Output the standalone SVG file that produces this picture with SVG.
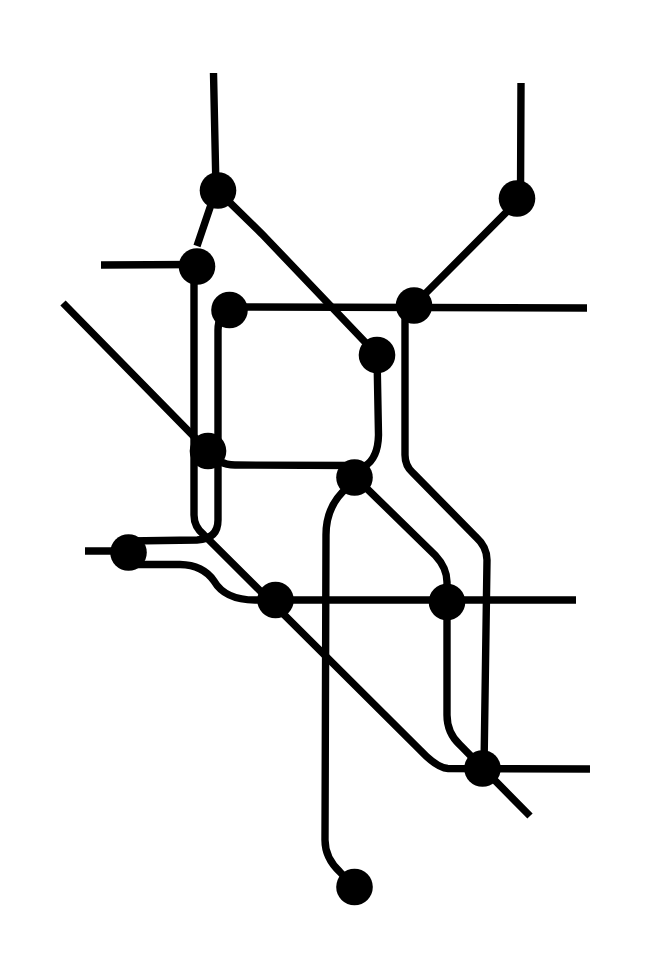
<svg xmlns="http://www.w3.org/2000/svg" width="656" height="976" viewBox="0 0 656 976">
<style>
.l{fill:none;stroke:#000;stroke-width:7.4}
.n{fill:#000}
</style>
<rect width="656" height="976" fill="#fff"/>
<g id="connectors">
<path class="l" d="M213.500 73L216 190L197 246"/>
<path class="l" d="M101 265L197 264.500"/>
<path class="l" d="M218 191L262 234L365 342L377 355L378.500 435Q378 458 365 466L355 477"/>
<path class="l" d="M521 83L520.500 198L414 305"/>
<path class="l" d="M230 307L587 308"/>
<path class="l" d="M229 310Q218 315 218 330L218 520Q218 539 197 540L128 541"/>
<path class="l" d="M194 266L194 515Q194 527 204 535L420 750Q437 768 448 768.500L590 769"/>
<path class="l" d="M63 303L207 450Q218 465 235 465L355 465.500"/>
<path class="l" d="M85 551L130 551"/>
<path class="l" d="M130 564.500L180 564.500Q203 565 214 581Q225 600 255 600L576 600"/>
<path class="l" d="M405 310L405 455Q405 466 413 473L476 537Q487 547 487 560L484 768"/>
<path class="l" d="M355 477L435 555Q447 568 447 582L447 715Q447 733 460 745L530 816"/>
<path class="l" d="M348 487Q326 505 326 535L325 840Q325 858 340 872L354 887"/>
</g>
<g id="n1"><circle class="n" cx="218" cy="190.500" r="18.300"/></g>
<g id="n2"><circle class="n" cx="517" cy="198.500" r="18.300"/></g>
<g id="n3"><circle class="n" cx="197" cy="266.500" r="18.300"/></g>
<g id="n4"><circle class="n" cx="229.500" cy="310" r="18.300"/></g>
<g id="n5"><circle class="n" cx="414" cy="305.500" r="18.300"/></g>
<g id="n6"><circle class="n" cx="377" cy="355" r="18.300"/></g>
<g id="n7"><circle class="n" cx="208" cy="451" r="18.300"/></g>
<g id="n8"><circle class="n" cx="354.500" cy="477.500" r="18.300"/></g>
<g id="n9"><circle class="n" cx="128.500" cy="552.500" r="18.300"/></g>
<g id="n10"><circle class="n" cx="275.500" cy="600" r="18.300"/></g>
<g id="n11"><circle class="n" cx="447" cy="602" r="18.300"/></g>
<g id="n12"><circle class="n" cx="482.500" cy="768.500" r="18.300"/></g>
<g id="n13"><circle class="n" cx="354.500" cy="887" r="18.300"/></g>
</svg>
